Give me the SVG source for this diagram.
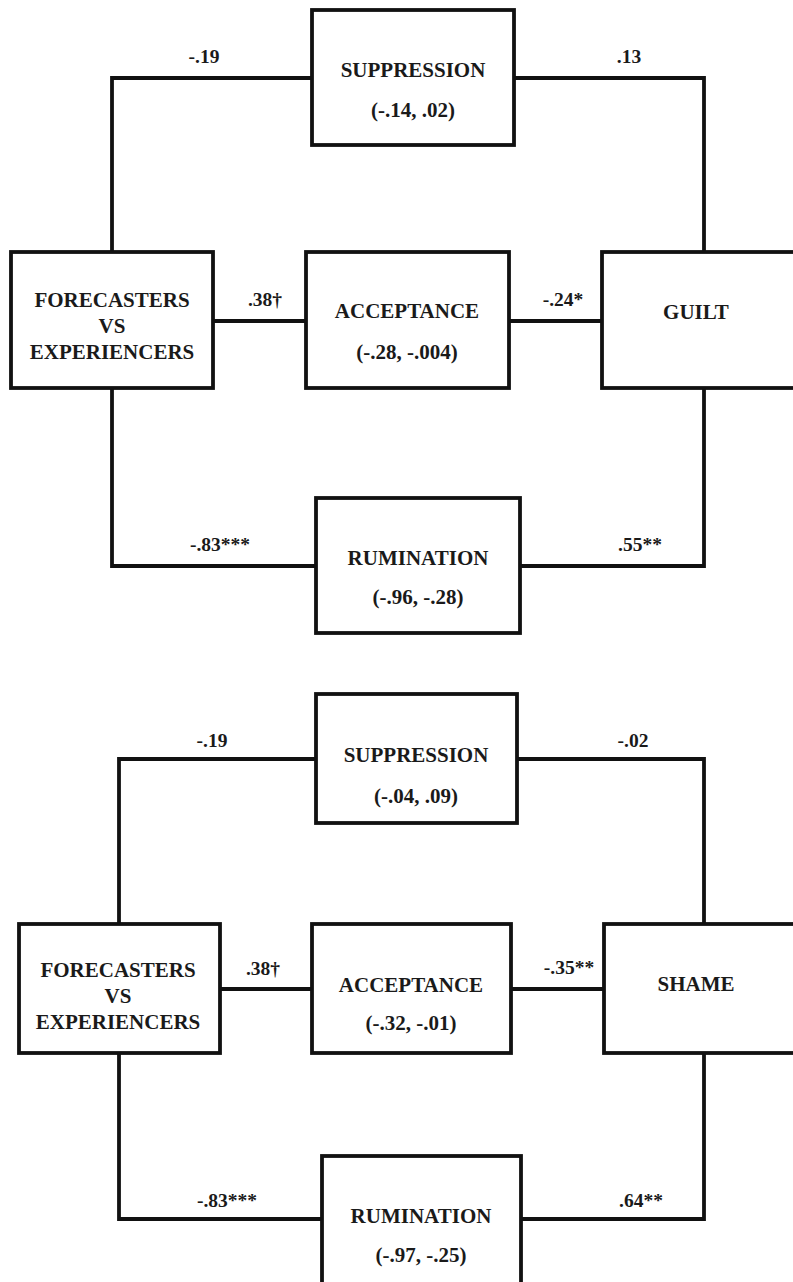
<svg xmlns="http://www.w3.org/2000/svg" width="793" height="1282" viewBox="0 0 793 1282">
<style>
.box{fill:#fff;stroke:#111;stroke-width:3.8}
.ln{fill:none;stroke:#111;stroke-width:3.8}
.t{font-family:"Liberation Serif","DejaVu Serif",serif;font-weight:bold;font-size:21px;fill:#1a1a1a;text-anchor:middle}
.c{font-family:"Liberation Serif","DejaVu Serif",serif;font-size:21px;fill:#1a1a1a;text-anchor:middle;font-weight:bold}
.l{font-family:"Liberation Serif","DejaVu Serif",serif;font-weight:bold;font-size:19.5px;fill:#1a1a1a;text-anchor:middle}
</style>
<rect width="793" height="1282" fill="#fff"/>
<g id="connectors">
<polyline class="ln" points="312,78 112,78 112,252"/>
<polyline class="ln" points="514,78 704,78 704,252"/>
<line class="ln" x1="213" y1="321" x2="306" y2="321"/>
<line class="ln" x1="509" y1="321" x2="602" y2="321"/>
<polyline class="ln" points="112,388 112,566 316,566"/>
<polyline class="ln" points="704,388 704,566 520,566"/>
<polyline class="ln" points="316,759 119,759 119,924"/>
<polyline class="ln" points="517,759 704,759 704,924"/>
<line class="ln" x1="220" y1="989" x2="312" y2="989"/>
<line class="ln" x1="511" y1="989" x2="604" y2="989"/>
<polyline class="ln" points="119,1053 119,1219 322,1219"/>
<polyline class="ln" points="704,1053 704,1219 521,1219"/>
</g>
<g id="edge-labels">
<text class="l" x="204" y="63">-.19</text>
<text class="l" x="629" y="63">.13</text>
<text class="l" x="265" y="306">.38†</text>
<text class="l" x="563" y="306">-.24*</text>
<text class="l" x="220" y="551">-.83***</text>
<text class="l" x="640" y="551">.55**</text>
<text class="l" x="212" y="747">-.19</text>
<text class="l" x="633" y="747">-.02</text>
<text class="l" x="263" y="975">.38†</text>
<text class="l" x="569" y="974">-.35**</text>
<text class="l" x="227" y="1207">-.83***</text>
<text class="l" x="641" y="1207">.64**</text>
</g>
<g id="suppression1"><rect class="box" x="312" y="10" width="202" height="135"/><text class="t" x="413" y="77">SUPPRESSION</text><text class="c" x="413" y="117">(-.14, .02)</text></g>
<g id="forecasters1"><rect class="box" x="11" y="252" width="202" height="136"/><text class="t" x="112" y="307">FORECASTERS</text><text class="t" x="112" y="333">VS</text><text class="t" x="112" y="359">EXPERIENCERS</text></g>
<g id="acceptance1"><rect class="box" x="306" y="252" width="203" height="136"/><text class="t" x="407" y="318">ACCEPTANCE</text><text class="c" x="407" y="359">(-.28, -.004)</text></g>
<g id="guilt"><rect class="box" x="602" y="252" width="200" height="136"/><text class="t" x="696" y="319">GUILT</text></g>
<g id="rumination1"><rect class="box" x="316" y="498" width="204" height="135"/><text class="t" x="418" y="565">RUMINATION</text><text class="c" x="418" y="604">(-.96, -.28)</text></g>
<g id="suppression2"><rect class="box" x="316" y="694" width="201" height="129"/><text class="t" x="416" y="762">SUPPRESSION</text><text class="c" x="416" y="803">(-.04, .09)</text></g>
<g id="forecasters2"><rect class="box" x="19" y="924" width="201" height="129"/><text class="t" x="118" y="977">FORECASTERS</text><text class="t" x="118" y="1003">VS</text><text class="t" x="118" y="1029">EXPERIENCERS</text></g>
<g id="acceptance2"><rect class="box" x="312" y="924" width="199" height="129"/><text class="t" x="411" y="992">ACCEPTANCE</text><text class="c" x="411" y="1030">(-.32, -.01)</text></g>
<g id="shame"><rect class="box" x="604" y="924" width="200" height="129"/><text class="t" x="696" y="991">SHAME</text></g>
<g id="rumination2"><rect class="box" x="322" y="1156" width="199" height="140"/><text class="t" x="421" y="1223">RUMINATION</text><text class="c" x="421" y="1262">(-.97, -.25)</text></g>
</svg>
